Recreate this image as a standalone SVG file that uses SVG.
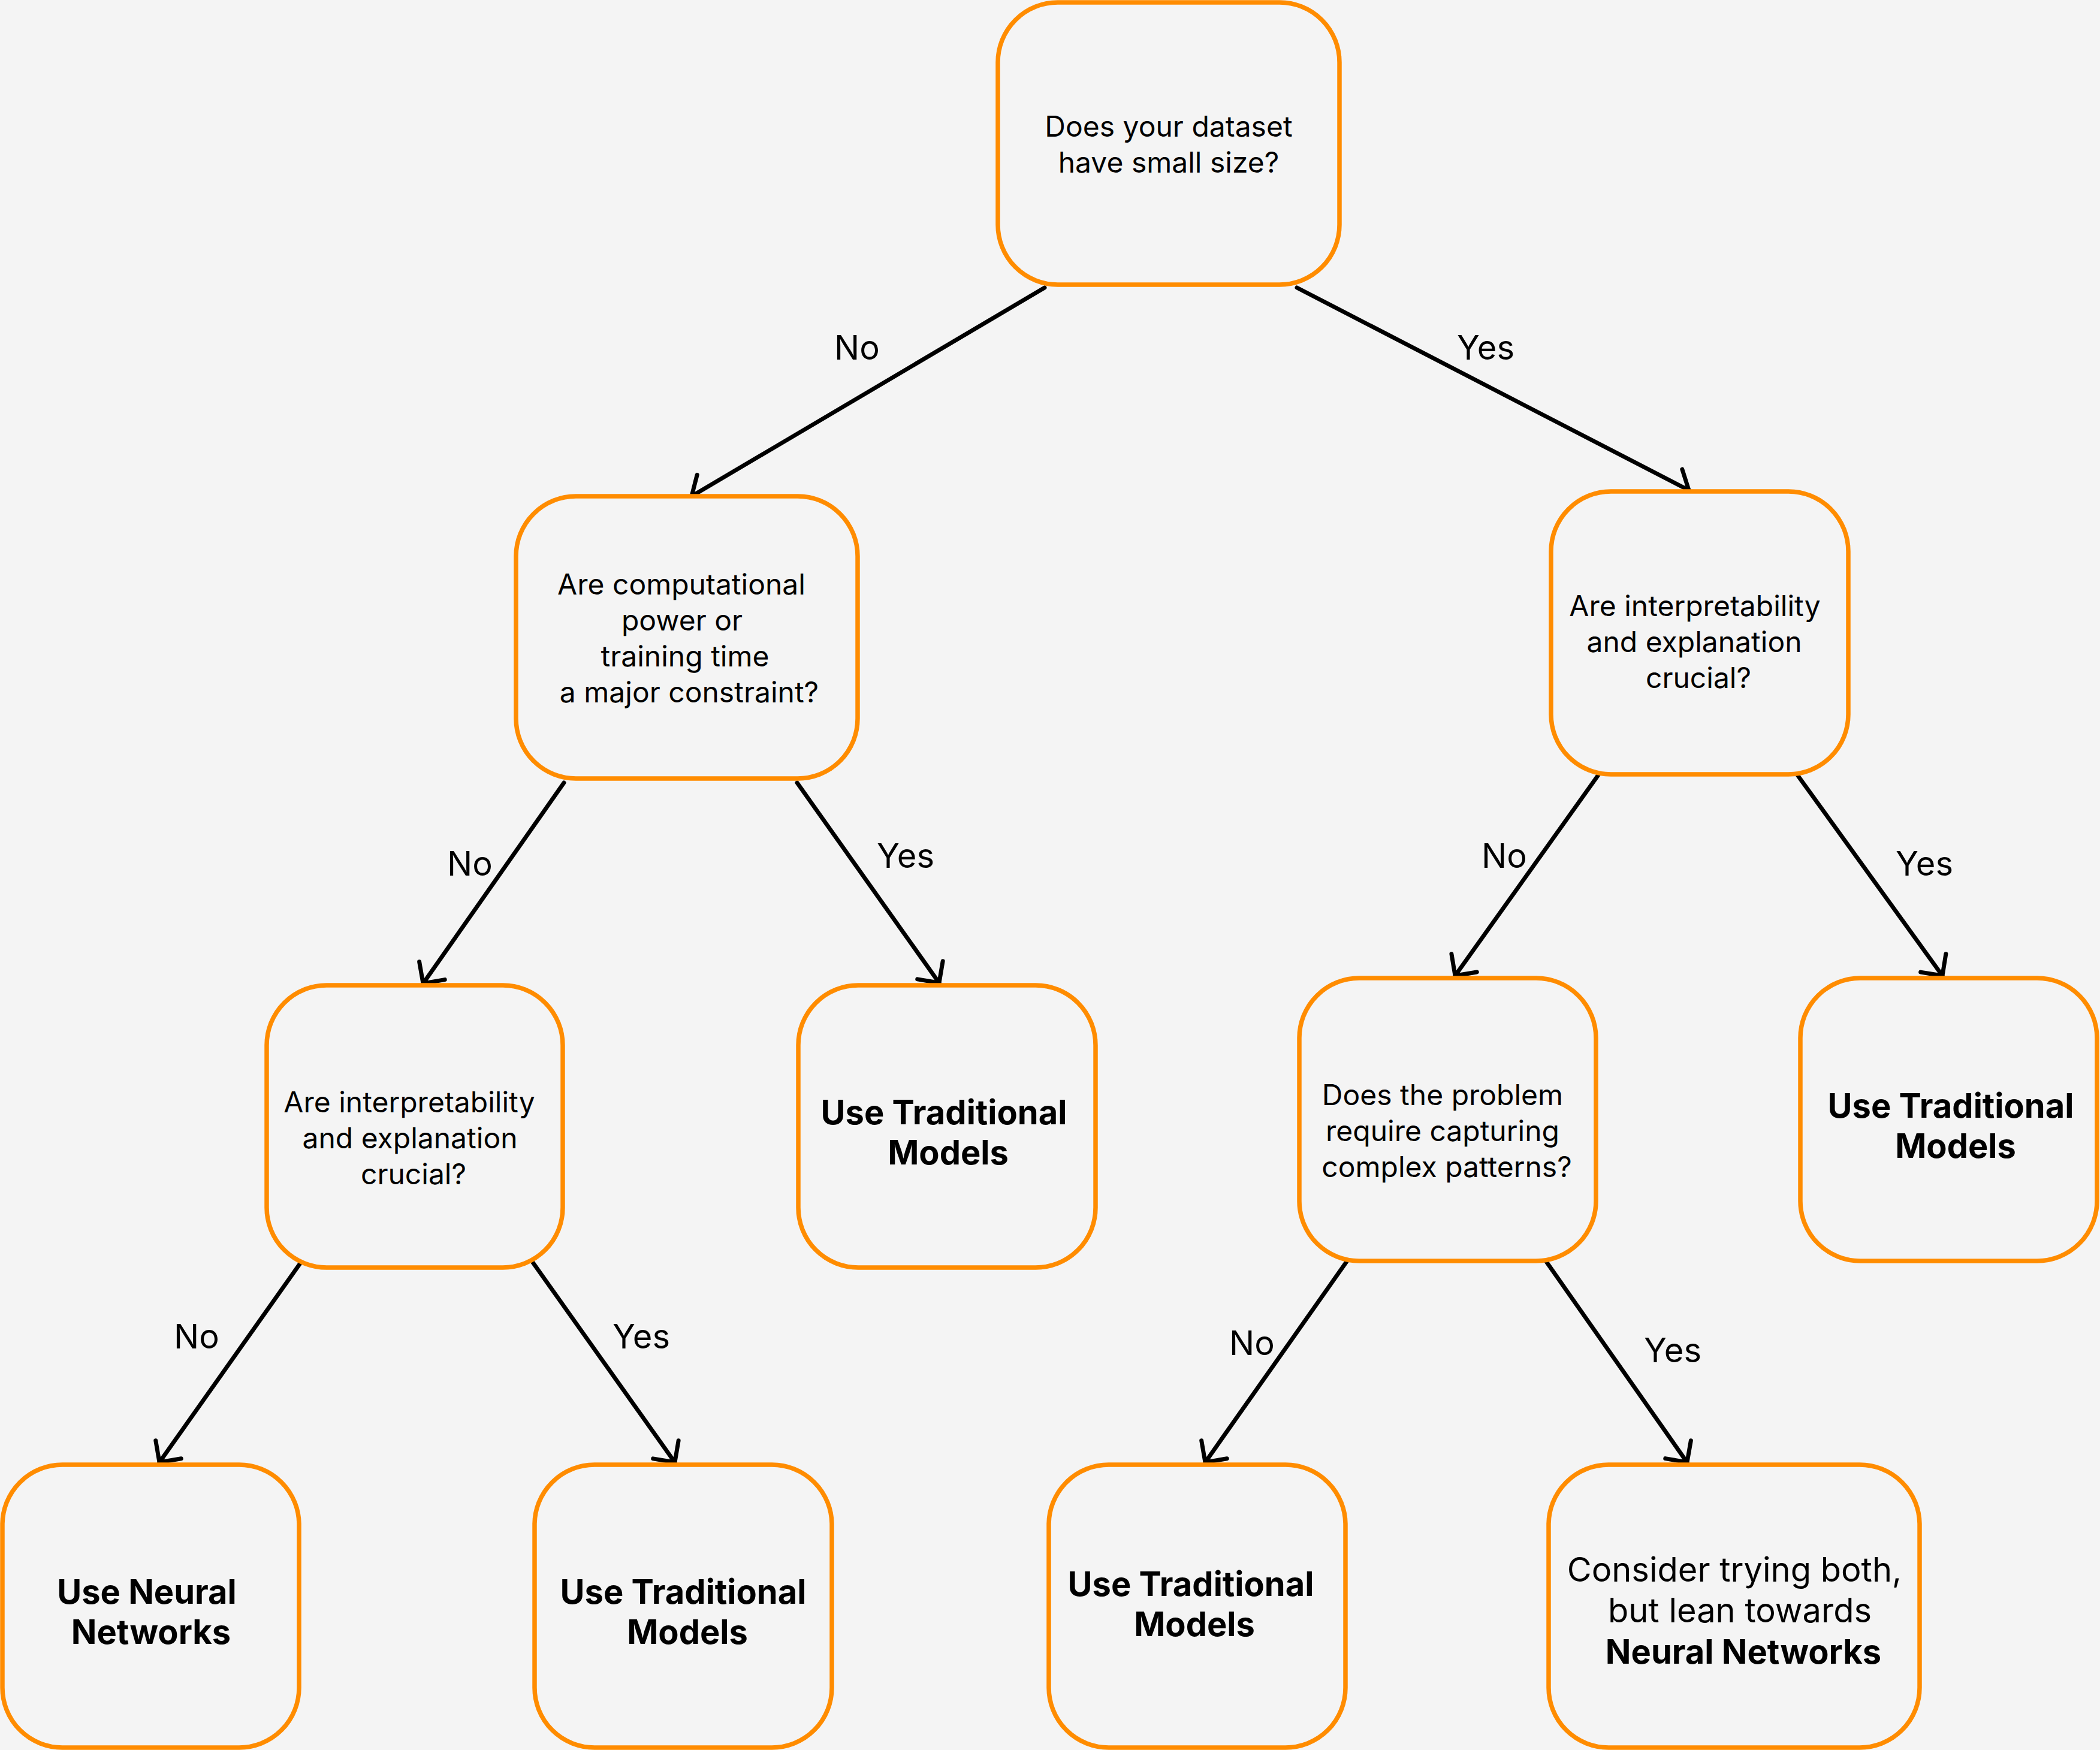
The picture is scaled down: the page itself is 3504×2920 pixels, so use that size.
<svg xmlns="http://www.w3.org/2000/svg" width="3504" height="2920" viewBox="0 0 3504 2920">
<style>
.node rect{fill:#F4F4F4;stroke:#FF8C00;stroke-width:7.5}
text{font-family:Inter,"Liberation Sans",sans-serif;fill:#000;text-anchor:middle}
.q{font-size:48px}
.r{font-size:56px;font-weight:700}
.c{font-size:56px}
.lbl{font-size:56px}
.edge{stroke:#000;stroke-width:7;fill:none;stroke-linecap:round;marker-end:url(#arr)}
</style>
<defs>
<marker id="arr" markerUnits="userSpaceOnUse" viewBox="-40 -40 80 80" markerWidth="80" markerHeight="80" refX="0" refY="0" orient="auto" overflow="visible">
<path d="M-26,-26 L0,0 L-26,26" fill="none" stroke="#000" stroke-width="7" stroke-linecap="round" stroke-linejoin="round"/>
</marker>
</defs>
<rect x="0" y="0" width="3504" height="2920" fill="#F4F4F4"/>
<g id="connectors">
<line class="edge" x1="1743" y1="480" x2="1154" y2="828"/>
<line class="edge" x1="2164" y1="480" x2="2818" y2="818"/>
<line class="edge" x1="941" y1="1306" x2="706" y2="1641"/>
<line class="edge" x1="1330" y1="1306" x2="1567" y2="1640"/>
<line class="edge" x1="2667" y1="1293" x2="2428" y2="1628"/>
<line class="edge" x1="2999" y1="1293" x2="3241" y2="1628"/>
<line class="edge" x1="503" y1="2105" x2="266" y2="2440"/>
<line class="edge" x1="888" y1="2105" x2="1126" y2="2440"/>
<line class="edge" x1="2247" y1="2105" x2="2011" y2="2440"/>
<line class="edge" x1="2580" y1="2105" x2="2815" y2="2440"/>
<text class="lbl" x="1430" y="600">No</text>
<text class="lbl" x="2479" y="600">Yes</text>
<text class="lbl" x="784" y="1461">No</text>
<text class="lbl" x="1511" y="1448">Yes</text>
<text class="lbl" x="2510" y="1448">No</text>
<text class="lbl" x="3211" y="1461">Yes</text>
<text class="lbl" x="328" y="2250">No</text>
<text class="lbl" x="1070" y="2250">Yes</text>
<text class="lbl" x="2089" y="2261">No</text>
<text class="lbl" x="2791" y="2273">Yes</text>
</g>
<g id="nodeA" class="node">
<rect x="1665" y="4" width="570" height="471" rx="100"/>
<text class="q" x="1950" y="228">Does your dataset</text>
<text class="q" x="1950" y="288">have small size?</text>
</g>
<g id="nodeB" class="node">
<rect x="861" y="828" width="570" height="471" rx="100"/>
<text class="q" x="1137" y="992">Are computational</text>
<text class="q" x="1138" y="1052">power or</text>
<text class="q" x="1143" y="1112">training time</text>
<text class="q" x="1150" y="1172">a major constraint?</text>
</g>
<g id="nodeC" class="node">
<rect x="2588" y="820" width="496" height="472" rx="100"/>
<text class="q" x="2828" y="1028">Are interpretability</text>
<text class="q" x="2827" y="1088">and explanation</text>
<text class="q" x="2834" y="1148">crucial?</text>
</g>
<g id="nodeD" class="node">
<rect x="445" y="1644" width="494" height="471" rx="100"/>
<text class="q" x="683" y="1856">Are interpretability</text>
<text class="q" x="684" y="1916">and explanation</text>
<text class="q" x="690" y="1976">crucial?</text>
</g>
<g id="nodeE" class="node">
<rect x="1332" y="1644" width="496" height="471" rx="100"/>
<text class="r" x="1575" y="1876">Use Traditional</text>
<text class="r" x="1582" y="1943">Models</text>
</g>
<g id="nodeF" class="node">
<rect x="2168" y="1632" width="495" height="472" rx="100"/>
<text class="q" x="2407" y="1844">Does the problem</text>
<text class="q" x="2407" y="1904">require capturing</text>
<text class="q" x="2414" y="1964">complex patterns?</text>
</g>
<g id="nodeG" class="node">
<rect x="3004" y="1632" width="495" height="472" rx="100"/>
<text class="r" x="3255" y="1865">Use Traditional</text>
<text class="r" x="3263" y="1932">Models</text>
</g>
<g id="nodeH" class="node">
<rect x="4" y="2444" width="495" height="472" rx="100"/>
<text class="r" x="245" y="2676">Use Neural</text>
<text class="r" x="252" y="2743">Networks</text>
</g>
<g id="nodeI" class="node">
<rect x="892" y="2444" width="496" height="472" rx="100"/>
<text class="r" x="1140" y="2676">Use Traditional</text>
<text class="r" x="1147" y="2743">Models</text>
</g>
<g id="nodeJ" class="node">
<rect x="1750" y="2444" width="495" height="472" rx="100"/>
<text class="r" x="1987" y="2663">Use Traditional</text>
<text class="r" x="1993" y="2730">Models</text>
</g>
<g id="nodeK" class="node">
<rect x="2584" y="2444" width="619" height="472" rx="100"/>
<text class="c" x="2894" y="2639">Consider trying both,</text>
<text class="c" x="2903" y="2707">but lean towards</text>
<text class="r" x="2909" y="2776">Neural Networks</text>
</g>
</svg>
